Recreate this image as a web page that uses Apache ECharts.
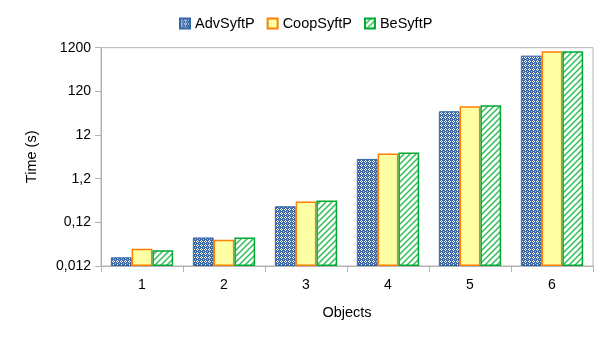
<!DOCTYPE html>
<html>
<head>
<meta charset="utf-8">
<script src="https://cdn.jsdelivr.net/npm/echarts@6/dist/echarts.min.js"></script>
<style>
html,body{margin:0;padding:0;background:#fff;}
#chart{width:605px;height:340px;}
</style>
</head>
<body>
<div id="chart"></div>
<script>
var categories = ['1', '2', '3', '4', '5', '6'];
var seriesNames = ['AdvSyftP', 'CoopSyftP', 'BeSyftP'];
var advValues = [0.019, 0.054, 0.28, 3.4, 42, 790];
var coopValues = [0.030, 0.048, 0.36, 4.5, 55, 1000];
var beValues = [0.0275, 0.054, 0.38, 4.8, 58, 1000];
var yTickLabels = ['0,012', '0,12', '1,2', '12', '120', '1200'];
var yBase = 0.012;

function logPos(v) { return Math.log10(v / yBase); }

function makeChecker() {
  var c = document.createElement('canvas');
  c.width = 4; c.height = 4;
  var ctx = c.getContext('2d');
  ctx.fillStyle = '#3a67a6';
  ctx.fillRect(0, 0, 4, 4);
  ctx.fillStyle = '#ffffff';
  ctx.fillRect(1, 0, 1, 1);
  ctx.fillRect(0, 1, 1, 1);
  ctx.fillRect(2, 1, 1, 1);
  ctx.fillRect(1, 2, 1, 1);
  ctx.fillStyle = '#a9bedb';
  ctx.fillRect(3, 3, 1, 1);
  return c;
}
function makeHatch() {
  var c = document.createElement('canvas');
  c.width = 6; c.height = 6;
  var ctx = c.getContext('2d');
  ctx.fillStyle = '#ffffff';
  ctx.fillRect(0, 0, 6, 6);
  ctx.strokeStyle = '#2fbf55';
  ctx.lineWidth = 1.5;
  ctx.beginPath();
  ctx.moveTo(-1, 7); ctx.lineTo(7, -1);
  ctx.moveTo(-4, 4); ctx.lineTo(4, -4);
  ctx.moveTo(2, 10); ctx.lineTo(10, 2);
  ctx.stroke();
  return c;
}

var chart = echarts.init(document.getElementById('chart'), null, {renderer: 'canvas'});
var font = 'Liberation Sans';
var gray = '#b3b3b3';

var option = {
  animation: false,
  backgroundColor: '#ffffff',
  textStyle: {fontFamily: font},
  legend: {
    top: 11,
    left: 174,
    icon: 'rect',
    itemWidth: 10,
    itemHeight: 10,
    itemGap: 12,
    textStyle: {fontFamily: font, fontSize: 14.5, color: '#000'},
    data: seriesNames
  },
  grid: {
    left: 101, right: 12, top: 47.7, bottom: 74,
    show: true, borderColor: gray, borderWidth: 1, backgroundColor: 'transparent'
  },
  xAxis: {
    type: 'category',
    data: categories,
    name: 'Objects',
    nameLocation: 'middle',
    nameGap: 39,
    nameTextStyle: {fontFamily: font, fontSize: 14.5, color: '#000'},
    axisLine: {lineStyle: {color: gray}},
    axisTick: {show: true, length: 6, interval: 0, lineStyle: {color: gray}},
    axisLabel: {fontFamily: font, fontSize: 14, color: '#000', margin: 12}
  },
  yAxis: {
    type: 'value',
    min: 0, max: 5, interval: 1,
    name: 'Time (s)',
    nameLocation: 'middle',
    nameGap: 62,
    nameTextStyle: {fontFamily: font, fontSize: 14.5, color: '#000'},
    axisLine: {show: true, lineStyle: {color: gray}},
    axisTick: {show: true, length: 6, lineStyle: {color: gray}},
    splitLine: {show: false},
    axisLabel: {
      fontFamily: font, fontSize: 14, color: '#000', margin: 10,
      formatter: function (v) { return yTickLabels[Math.round(v)]; }
    }
  },
  series: [
    {
      name: seriesNames[0], type: 'bar',
      data: advValues.map(logPos),
      barGap: '0%', barCategoryGap: '24%',
      itemStyle: {color: {image: makeChecker(), repeat: 'repeat'}, borderColor: '#3465a4', borderWidth: 1}
    },
    {
      name: seriesNames[1], type: 'bar',
      data: coopValues.map(logPos),
      barGap: '0%', barCategoryGap: '24%',
      itemStyle: {color: '#ffffa6', borderColor: '#ff8000', borderWidth: 1.5}
    },
    {
      name: seriesNames[2], type: 'bar',
      data: beValues.map(logPos),
      barGap: '0%', barCategoryGap: '24%',
      itemStyle: {color: {image: makeHatch(), repeat: 'repeat'}, borderColor: '#00a933', borderWidth: 1.5}
    }
  ]
};
chart.setOption(option);
</script>
</body>
</html>
